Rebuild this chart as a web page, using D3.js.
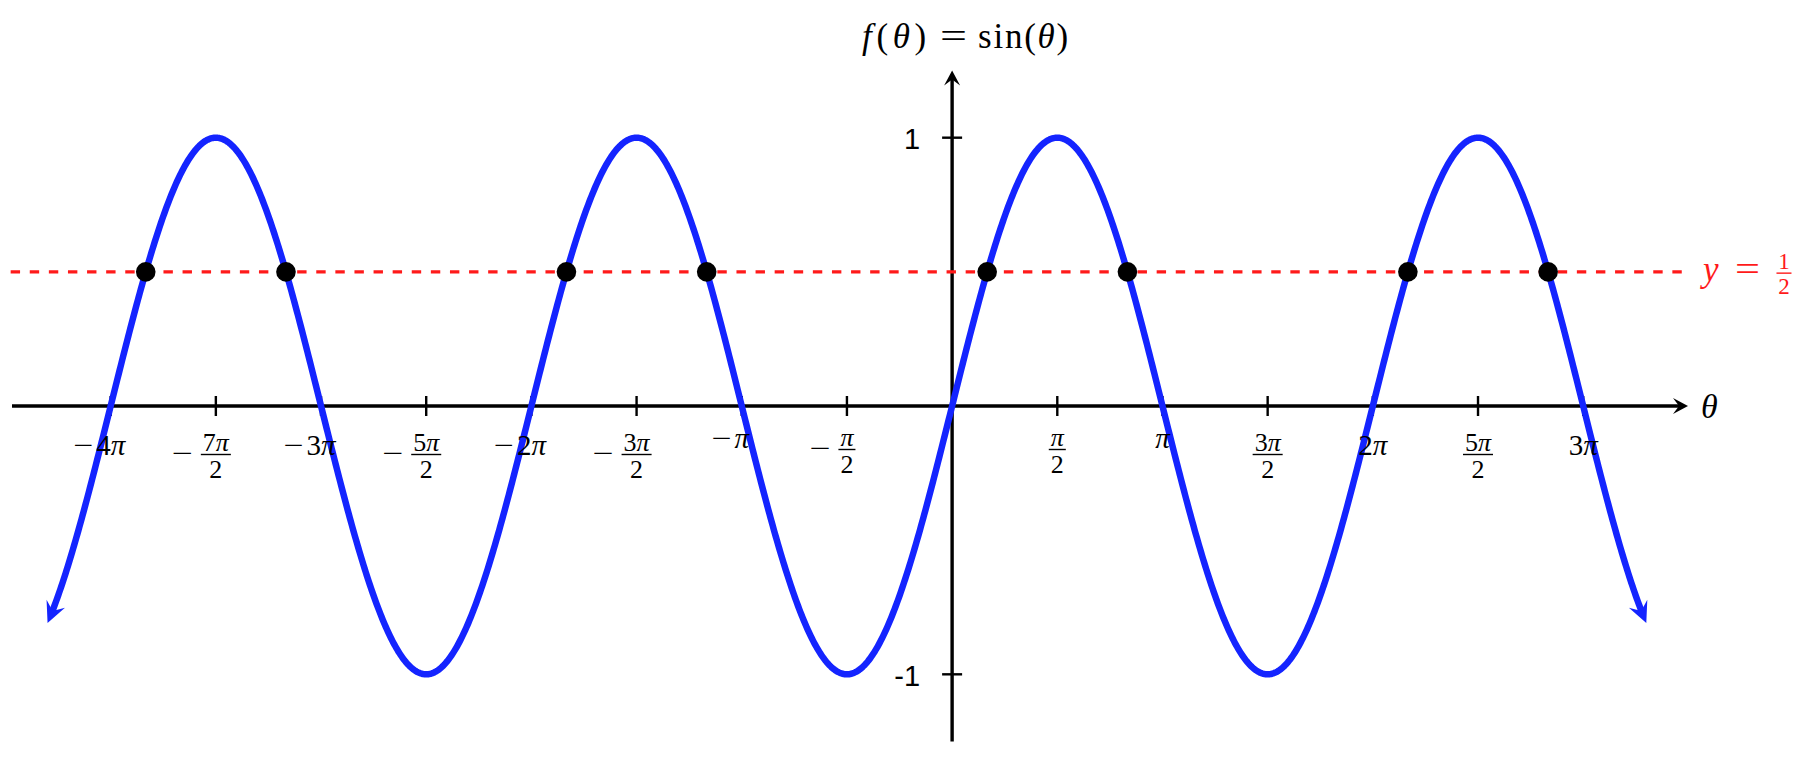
<!DOCTYPE html>
<html><head><meta charset="utf-8">
<script src="https://cdn.jsdelivr.net/npm/d3@7"></script>
<style>html,body{margin:0;padding:0;background:#fff;} svg{display:block}</style>
</head><body>
<svg id="chart" width="1812" height="760"></svg>
<script>
const PI = Math.PI;
// ---- data ----
const xAxisExtent = [-14.04, 10.99];          // radians covered by the θ axis
const yAxisExtent = [-1.25, 1.25];            // function values covered by the vertical axis
const curveExtentPi = [-4.3, 3.3];            // plotted θ range of f(θ)=sin(θ), in multiples of π
const halfLineExtent = [-14.06, 10.9];        // θ range of dashed y = 1/2 line
const halfLineValue = 0.5;
const xTickHalfPis = [-8, -7, -6, -5, -4, -3, -2, -1, 1, 2, 3, 4, 5, 6];
const xTickLabels = ["−4π", "−7π/2", "−3π", "−5π/2", "−2π", "−3π/2", "−π", "−π/2",
                     "π/2", "π", "3π/2", "2π", "5π/2", "3π"];
const yTickValues = [-1, 1];
const yTickLabels = ["-1", "1"];
const intersectionSixthPis = [-23, -19, -11, -7, 1, 5, 13, 17];   // sin θ = 1/2 solutions (θ = k·π/6)

// ---- styles ----
const BLUE = "#1424ff", RED = "#ff1a1a", BLACK = "#000";
const SERIF = "Liberation Serif, DejaVu Serif, Times New Roman, serif";
const SANS = "Liberation Sans, Arial, Helvetica, sans-serif";

const svg = d3.select("#chart");
svg.append("rect").attr("width", 1812).attr("height", 760).attr("fill", "#fff");

const x = d3.scaleLinear().domain(xAxisExtent).range([12, 1688]);
const y = d3.scaleLinear().domain(yAxisExtent).range([741.4, 70.6]);
const x0 = x(0), y0 = y(0);

function arrowHead(tx, ty, ux, uy, L, W, N, color) {
  const px = -uy, py = ux;
  const p = d3.path();
  p.moveTo(tx, ty);
  p.lineTo(tx - L * ux + W * px, ty - L * uy + W * py);
  p.lineTo(tx - N * ux, ty - N * uy);
  p.lineTo(tx - L * ux - W * px, ty - L * uy - W * py);
  p.closePath();
  svg.append("path").attr("d", p.toString()).attr("fill", color);
}
function txt(xp, yp, s, opts = {}) {
  const t = svg.append("text").attr("x", xp).attr("y", yp)
    .attr("font-family", opts.family || SERIF).attr("font-size", opts.size || 28)
    .attr("fill", opts.fill || BLACK).attr("text-anchor", opts.anchor || "start");
  if (opts.italic) t.attr("font-style", "italic");
  if (opts.len) t.attr("textLength", opts.len).attr("lengthAdjust", opts.adjust || "spacingAndGlyphs");
  if (s !== null) t.text(s);
  return t;
}

// ---- axes ----
const axisW = 3.4;
svg.append("line").attr("x1", x(xAxisExtent[0])).attr("x2", x(xAxisExtent[1]) - 6)
  .attr("y1", y0).attr("y2", y0).attr("stroke", BLACK).attr("stroke-width", axisW);
arrowHead(x(xAxisExtent[1]), y0, 1, 0, 15, 8, 9, BLACK);
svg.append("line").attr("x1", x0).attr("x2", x0)
  .attr("y1", y(yAxisExtent[0])).attr("y2", y(yAxisExtent[1]) + 6)
  .attr("stroke", BLACK).attr("stroke-width", axisW);
arrowHead(x0, y(yAxisExtent[1]), 0, -1, 15, 8, 9, BLACK);

// ticks
xTickHalfPis.forEach(m => {
  svg.append("line").attr("x1", x(m * PI / 2)).attr("x2", x(m * PI / 2))
    .attr("y1", y0 - 10).attr("y2", y0 + 10).attr("stroke", BLACK).attr("stroke-width", 2.4);
});
yTickValues.forEach((v, i) => {
  svg.append("line").attr("x1", x0 - 10).attr("x2", x0 + 10)
    .attr("y1", y(v)).attr("y2", y(v)).attr("stroke", BLACK).attr("stroke-width", 2.4);
  txt(x0 - 32, y(v) + 1, yTickLabels[i], { family: SANS, size: 29, anchor: "end" }).attr("dy", "0.36em");
});

// ---- dashed y = 1/2 ----
svg.append("line").attr("x1", x(halfLineExtent[0])).attr("x2", x(halfLineExtent[1]))
  .attr("y1", y(halfLineValue)).attr("y2", y(halfLineValue))
  .attr("stroke", RED).attr("stroke-width", 3.2).attr("stroke-dasharray", "9.4 9.7");

// ---- sine curve ----
const kx = x(1) - x(0), ky = y(0) - y(1);
const t0 = curveExtentPi[0] * PI, t1 = curveExtentPi[1] * PI;
function dirAt(t) { const dx = kx, dy = -ky * Math.cos(t); const n = Math.hypot(dx, dy); return [dx / n, dy / n]; }
const trim = 11;
const d0 = dirAt(t0), d1 = dirAt(t1);
const s0 = trim / Math.hypot(kx, ky * Math.cos(t0)), s1 = trim / Math.hypot(kx, ky * Math.cos(t1));
const nS = 1500;
const pts = d3.range(nS + 1).map(i => (t0 + s0) + ((t1 - s1) - (t0 + s0)) * i / nS);
svg.append("path").datum(pts)
  .attr("d", d3.line().x(t => x(t)).y(t => y(Math.sin(t))))
  .attr("fill", "none").attr("stroke", BLUE).attr("stroke-width", 6.5)
  .attr("stroke-linejoin", "round");
arrowHead(x(t1), y(Math.sin(t1)), d1[0], d1[1], 21, 10, 13, BLUE);
arrowHead(x(t0), y(Math.sin(t0)), -d0[0], -d0[1], 21, 10, 13, BLUE);

// ---- intersection dots ----
svg.selectAll("circle.pt").data(intersectionSixthPis).enter().append("circle")
  .attr("cx", k => x(k * PI / 6)).attr("cy", k => y(Math.sin(k * PI / 6)))
  .attr("r", 9.8).attr("fill", BLACK);

// ---- x tick labels ----
function mathText(sel, str) {
  for (const ch of str) {
    sel.append("tspan").attr("font-style", ch === "π" ? "italic" : "normal").text(ch);
  }
}
xTickHalfPis.forEach((m, i) => {
  const lab = xTickLabels[i];
  const neg = lab.startsWith("−");
  const body = neg ? lab.slice(1) : lab;
  const [num, den] = body.split("/");
  const cx = x(m * PI / 2);
  const hasDigit = /\d/.test(num);
  if (!den) {
    const base = y0 + (hasDigit ? 49 : 42);
    const t = txt(cx, base, null, { size: 29, anchor: "middle" });
    mathText(t, num);
    if (neg) {
      const w = t.node().getComputedTextLength();
      txt(cx - w / 2 - 23, base, "−", { size: 29, len: 20 });
    }
  } else {
    const barY = y0 + (hasDigit ? 48.5 : 43.5);
    const tn = txt(cx, barY - 4, null, { size: 26, anchor: "middle" });
    mathText(tn, num);
    const td = txt(cx, barY + 23, den, { size: 26, anchor: "middle" });
    const w = Math.max(tn.node().getComputedTextLength(), td.node().getComputedTextLength()) + 4;
    svg.append("line").attr("x1", cx - w / 2).attr("x2", cx + w / 2).attr("y1", barY).attr("y2", barY)
      .attr("stroke", BLACK).attr("stroke-width", 1.4);
    if (neg) txt(cx - w / 2 - 8 - 21, barY + 8, "−", { size: 29, len: 21 });
  }
});

// ---- θ axis label ----
txt(x(xAxisExtent[1]) + 13, y0 + 12, "θ", { size: 34, italic: true });

// ---- title f(θ) = sin(θ) ----
const tl = txt(x0 - 90, 48, null, { size: 35, len: 64, adjust: "spacing" });
tl.append("tspan").attr("font-style", "italic").text("f");
tl.append("tspan").text("(");
tl.append("tspan").attr("font-style", "italic").text("θ");
tl.append("tspan").text(")");
txt(x0 + 1.5, 48, "=", { size: 35, anchor: "middle", len: 27 });
const tr = txt(x0 + 26, 48, null, { size: 35, len: 90, adjust: "spacing" });
tr.append("tspan").text("sin(");
tr.append("tspan").attr("font-style", "italic").text("θ");
tr.append("tspan").text(")");

// ---- y = 1/2 label ----
const lx = x(halfLineExtent[1]) + 21, ly = y(halfLineValue);
txt(lx, ly + 9, "y", { size: 35, italic: true, fill: RED });
txt(lx + 44.5, ly + 9.5, "=", { size: 35, anchor: "middle", fill: RED, len: 25 });
const fx = lx + 81;
txt(fx, ly - 2.5, "1", { size: 23, anchor: "middle", fill: RED });
txt(fx, ly + 22.5, "2", { size: 23, anchor: "middle", fill: RED });
svg.append("line").attr("x1", fx - 7.5).attr("x2", fx + 7.5).attr("y1", ly + 1.3).attr("y2", ly + 1.3)
  .attr("stroke", RED).attr("stroke-width", 1.4);
</script>
</body></html>
